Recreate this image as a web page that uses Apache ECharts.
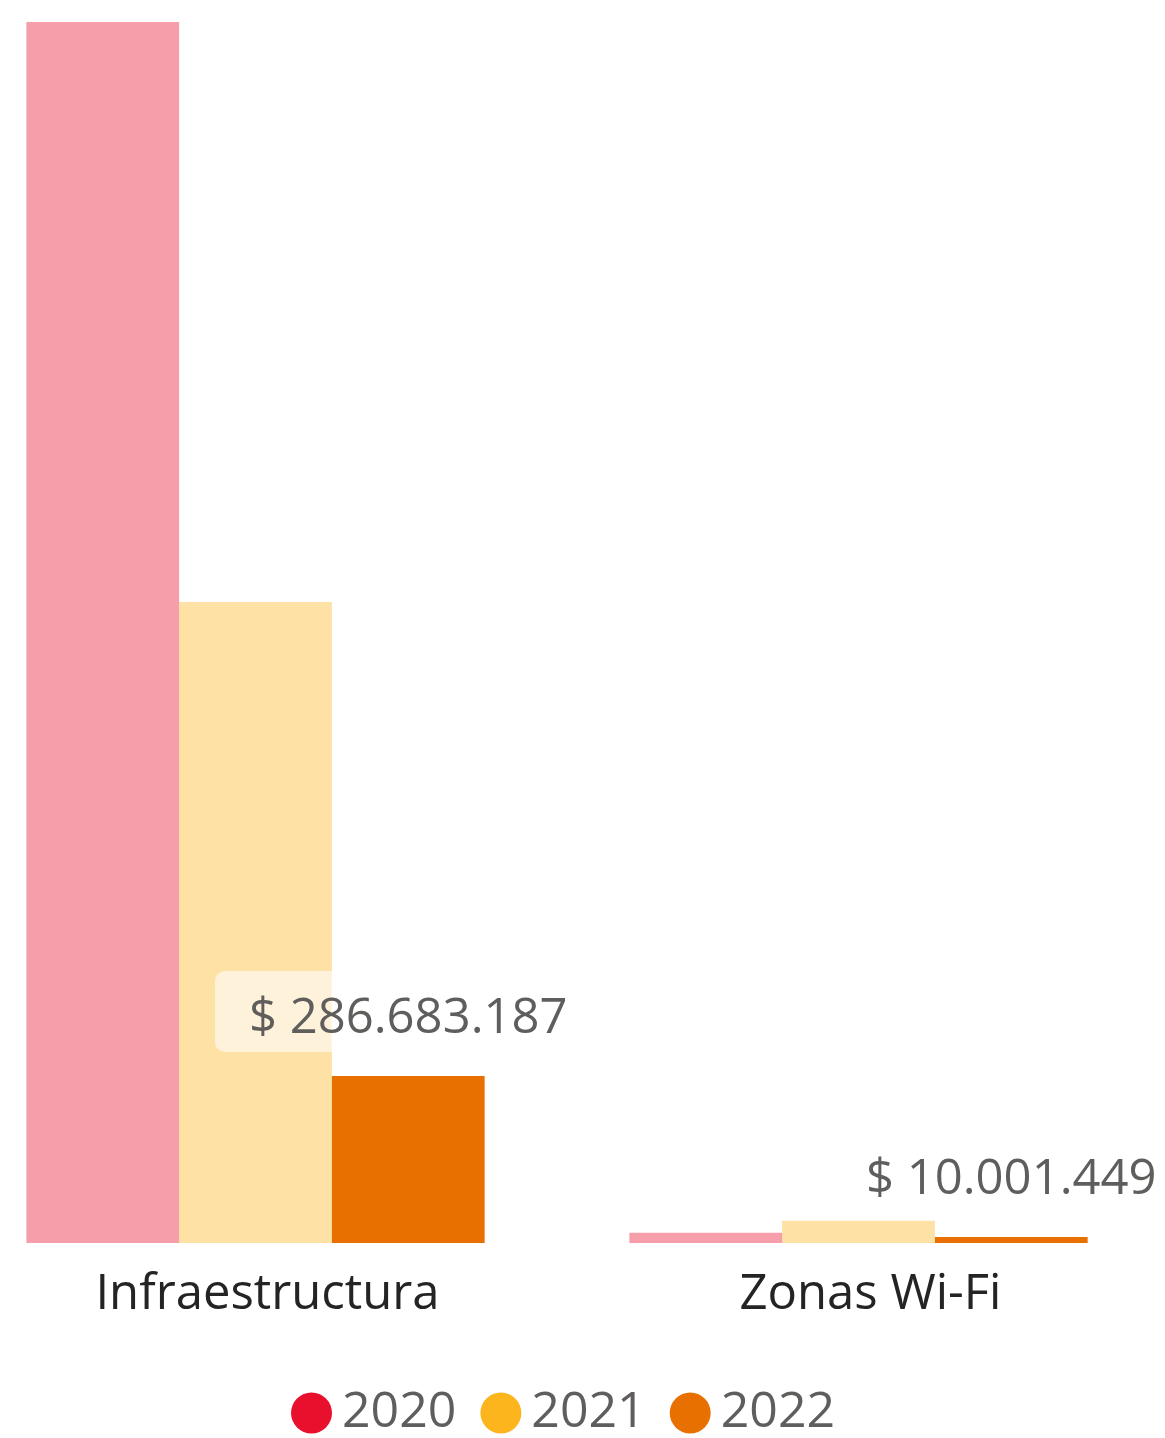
<!DOCTYPE html>
<html>
<head>
<meta charset="utf-8">
<script src="https://cdn.jsdelivr.net/npm/echarts@6/dist/echarts.min.js"></script>
<style>
  html, body { margin: 0; padding: 0; background: #fff; }
  #main { width: 1165px; height: 1438px; }
</style>
</head>
<body>
<div id="main"></div>
<script>
var categories = ['Infraestructura', 'Zonas Wi-Fi'];
var years = ['2020', '2021', '2022'];
var values2020 = [2096000000, 17700000];
var values2021 = [1100400000, 38300000];
var values2022 = [286683187, 10001449];
var colors = ['#E8102D', '#FDB51E', '#E87000'];

function fmt(v) {
  return '$ ' + String(Math.round(v)).replace(/\B(?=(\d{3})+(?!\d))/g, '.');
}

var myChart = echarts.init(document.getElementById('main'));
var font = '"Open Sans", "Noto Sans", sans-serif';

myChart.setOption({
  animation: false,
  grid: { left: -46, right: 5, top: 22, bottom: 195, containLabel: false, outerBoundsMode: 'none' },
  legend: {
    bottom: -5,
    left: 286,
    icon: 'circle',
    itemWidth: 41,
    itemHeight: 41,
    itemGap: 24,
    textStyle: { fontFamily: font, fontSize: 50, color: '#605E5C', padding: [0, 0, 0, 5] },
    data: years.map(function (y, i) {
      return { name: y, itemStyle: { color: colors[i], opacity: 1 } };
    })
  },
  xAxis: {
    type: 'category',
    data: categories,
    axisLine: { show: false },
    axisTick: { show: false },
    axisLabel: { fontFamily: font, fontSize: 49, color: '#252423', margin: 28, padding: [0, 0, 0, 24] }
  },
  yAxis: {
    type: 'value',
    min: 0,
    max: 'dataMax',
    show: false,
    splitLine: { show: false }
  },
  series: [
    {
      name: '2020', type: 'bar', data: values2020,
      barGap: '0%', barCategoryGap: '24%',
      itemStyle: { color: colors[0], opacity: 0.4 }
    },
    {
      name: '2021', type: 'bar', data: values2021,
      itemStyle: { color: colors[1], opacity: 0.4 }
    },
    {
      name: '2022', type: 'bar', data: values2022,
      barMinHeight: 6,
      itemStyle: { color: colors[2] },
      label: {
        show: true,
        position: 'top',
        distance: 24,
        formatter: function (p) { return fmt(p.value); },
        fontFamily: font,
        fontSize: 49,
        color: '#605E5C',
        backgroundColor: 'rgba(255,255,255,0.6)',
        borderRadius: 10,
        padding: [24, 34, 8, 34]
      }
    }
  ]
});
</script>
</body>
</html>
